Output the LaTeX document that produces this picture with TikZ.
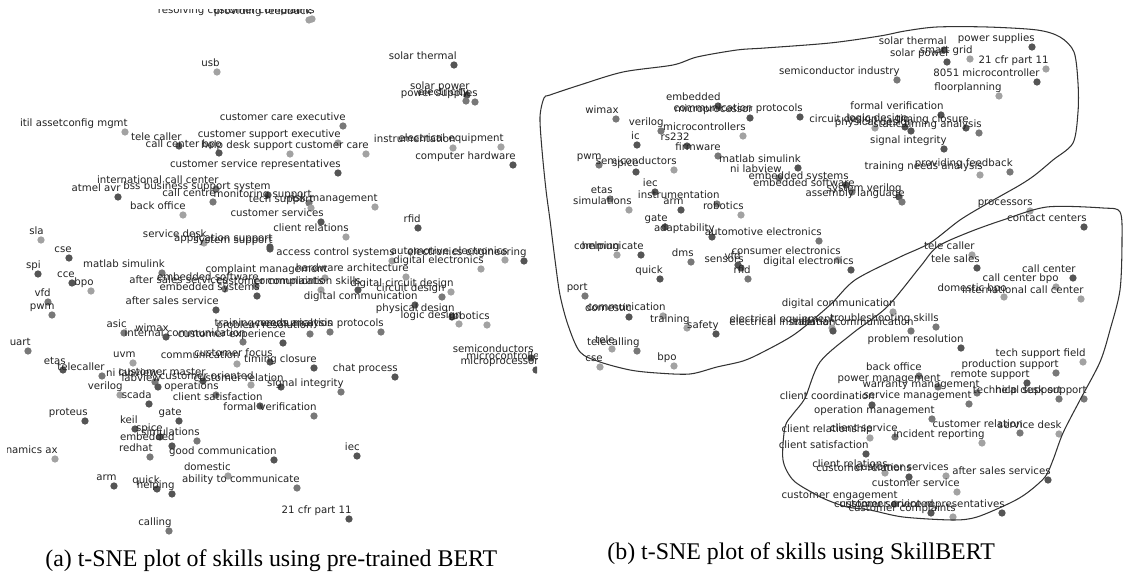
\documentclass[tikz,border=0pt]{standalone}
\usepackage{fontspec}
\setmainfont{Liberation Serif}
\newfontfamily\plotfont{DejaVu Sans}
\usepackage{tikz}
\usetikzlibrary{calc}
\definecolor{dk}{HTML}{555555}
\definecolor{md}{HTML}{787878}
\definecolor{lt}{HTML}{A2A2A2}
\definecolor{lbl}{HTML}{222222}
\tikzset{%
  skilldot/.style={circle, inner sep=0pt, minimum size=0.145cm, draw=none},
  skilltext/.style={font=\plotfont\fontsize{5.8}{7}\selectfont, text=lbl, inner sep=0pt, anchor=base east},
  blob/.style={draw=black!80, line width=0.6pt},
  capt/.style={font=\fontsize{13.6}{15}\selectfont, inner sep=0pt, anchor=base west}
}
\def\leftskills{312/19/lt/resolving customer complaints, 309/20/lt/providing feedback,
217/72/lt/usb, 454/65/dk/solar thermal, 467/95/dk/solar power, 466/101/md/electricity,
475/102/md/power supplies, 343/126/md/customer care executive, 125/132/lt/itil assetconfig mgmt,
338/143/lt/customer support executive, 179/146/dk/tele caller, 219/153/dk/call center bpo,
290/154/lt/help desk support, 366/154/lt/customer care, 501/147/lt/electrical equipment,
453/148/lt/instrumentation, 513/165/dk/computer hardware, 338/173/dk/customer service representatives,
216/189/md/international call center, 118/197/dk/atmel avr, 268/195/dk/bss business support system,
213/202/md/call centre, 309/203/md/monitoring support, 311/208/lt/tech support,
375/207/lt/risk management, 183/215/lt/back office, 321/222/dk/customer services,
418/228/dk/rfid, 346/237/lt/client relations, 41/240/lt/sla, 204/243/lt/service desk,
270/247/dk/application support, 270/249/dk/system support, 392/261/lt/access control systems,
505/260/lt/automotive electronics, 524/261/dk/electronics engineering, 481/269/lt/digital electronics,
69/258/dk/cse, 38/274/dk/spi, 162/273/md/matlab simulink, 325/278/lt/complaint management,
406/277/lt/hardware architecture, 72/283/dk/cce, 91/291/lt/bpo, 256/286/md/embedded software,
225/289/md/after sales services, 321/290/lt/customer complaints, 358/290/dk/communication skills,
451/292/lt/digital circuit design, 442/297/md/circuit design, 257/296/dk/embedded systems,
415/305/dk/digital communication, 216/310/dk/after sales service, 452/317/dk/physical design,
459/324/lt/logic design, 487/325/lt/robotics, 48/302/md/vfd, 52/315/md/pwm,
330/332/md/training needs analysis, 310/334/md/problem resolution, 381/332/md/communication protocols,
124/333/md/asic, 166/337/dk/wimax, 243/342/md/internal communication, 283/343/dk/customer experience,
28/351/md/uart, 133/363/lt/uvm, 237/364/lt/communication, 270/362/dk/customer focus,
314/368/dk/timing closure, 395/377/dk/chat process, 531/358/dk/semiconductors,
541/365/dk/microcontroller, 536/370/dk/microprocessor, 63/370/dk/etas, 102/376/md/telecaller,
155/382/md/ni labview, 158/387/dk/labview, 203/381/dk/customer master, 251/385/lt/customer oriented,
281/387/dk/customer relation, 216/395/md/operations, 341/392/md/signal integrity, 120/395/lt/verilog,
149/404/dk/scada, 260/406/dk/client satisfaction, 314/416/md/formal verification, 85/421/dk/proteus,
179/421/dk/gate, 135/429/dk/keil, 160/437/dk/spice, 197/441/md/simulations, 172/446/dk/embedded,
150/457/md/redhat, 274/460/dk/good communication, 55/459/lt/dynamics ax, 357/456/dk/iec,
228/476/lt/domestic, 297/488/md/ability to communicate, 114/486/dk/arm, 157/489/dk/quick,
172/494/dk/helping, 349/519/dk/21 cfr part 11, 169/531/md/calling}
\def\rightskills{897/80/md/semiconductor industry, 718/106/dk/embedded, 800/117/dk/communication protocols,
750/118/dk/microprocessor, 616/119/md/wimax, 661/131/md/verilog, 743/136/lt/microcontrollers,
637/145/dk/ic, 687/146/dk/rs232, 718/156/md/firmware, 798/168/dk/matlab simulink, 599/165/md/pwm,
674/170/lt/semiconductors, 636/172/dk/spice, 779/178/md/ni labview, 846/185/dk/embedded systems,
852/192/md/embedded software, 899/197/dk/system verilog, 902/202/md/assembly language,
944/50/dk/solar thermal, 947/62/dk/solar power, 970/59/lt/smart grid, 1032/47/dk/power supplies,
1046/69/lt/21 cfr part 11, 1037/82/dk/8051 microcontroller, 999/96/lt/floorplanning,
941/115/dk/formal verification, 875/128/lt/circuit design, 911/131/dk/physical design,
905/127/dk/logic design, 966/128/dk/timing closure, 979/133/md/static timing analysis,
944/149/dk/signal integrity, 980/175/lt/training needs analysis, 1010/172/md/providing feedback,
610/199/md/etas, 655/192/dk/iec, 629/210/lt/simulations, 717/204/md/instrumentation, 681/210/dk/arm,
741/215/lt/robotics, 665/227/dk/gate, 712/237/dk/adaptability, 819/241/md/automotive electronics,
641/255/dk/communicate, 617/255/lt/helping, 691/262/md/dms, 741/268/dk/sensors, 738/265/dk/vfd,
748/279/md/rfid, 838/260/lt/consumer electronics, 851/270/dk/digital electronics, 660/279/dk/quick,
585/296/md/port, 629/317/dk/domestic, 663/316/lt/communication, 687/328/lt/training, 716/334/dk/safety,
832/328/lt/electrical equipment, 833/331/dk/electrical installation, 893/312/lt/digital communication,
936/327/md/troubleshooting skills, 911/331/md/internal communication, 961/348/dk/problem resolution,
1083/362/lt/tech support field, 919/376/md/back office, 1056/373/md/production support,
1027/383/dk/remote support, 938/387/md/power management, 977/393/md/warranty management,
1059/399/md/technical support, 1084/399/md/help desk support, 872/405/dk/client coordination,
969/404/md/service management, 932/419/md/operation management, 1020/433/md/customer relation,
1059/434/lt/service desk, 870/438/lt/client relationship, 895/437/md/client service,
982/443/lt/incident reporting, 866/454/dk/client satisfaction, 885/473/lt/client relations,
909/477/dk/customer relations, 946/476/lt/customer services, 1048/480/dk/after sales services,
957/492/lt/customer service, 895/504/md/customer engagement, 931/513/dk/customer oriented,
953/517/lt/customer complaints, 1002/513/dk/customer service representatives, 1030/211/lt/processors,
1084/227/dk/contact centers, 972/255/lt/tele caller, 977/268/dk/tele sales, 1073/278/dk/call center,
1056/287/lt/call center bpo, 1004/297/lt/domestic bpo, 1081/299/lt/international call center,
637/351/md/telecalling, 612/349/lt/tele, 600/367/lt/cse, 674/366/lt/bpo}

\begin{document}
\begin{tikzpicture}[x=0.02cm, y=-0.02cm]
  \useasboundingbox (0,0) rectangle (1123,573);
  \begin{scope}
    \clip (7,9.5) rectangle (537,545);
    \foreach \px/\py/\sh/\lab [count=\i] in \leftskills {
      \node[skilldot, fill=\sh] (a\i) at (\px,\py) {};
    }
    \foreach \px/\py/\sh/\lab [count=\i] in \leftskills {
      \node[skilltext] (la\i) at ($(a\i)+(3,-5)$) {\lab};
    }
  \end{scope}
  \foreach \px/\py/\sh/\lab [count=\i] in \rightskills {
    \node[skilldot, fill=\sh] (b\i) at (\px,\py) {};
  }
  \foreach \px/\py/\sh/\lab [count=\i] in \rightskills {
    \node[skilltext] (lb\i) at ($(b\i)+(3,-5)$) {\lab};
  }
  \draw[blob] plot[smooth cycle] coordinates {(550,95) (580,85) (623,72) (673,65) (697,57)
    (737,50) (765,48) (830,43) (880,36) (905,31) (937,27) (987,27) (1037,30) (1060,37)
    (1074,52) (1078,83) (1078,112) (1073,143) (1053,160) (1035,175) (1020,185) (990,202)
    (960,220) (930,243) (900,257) (855,280) (830,305) (795,334) (763,352) (743,361)
    (717,367) (690,374) (657,373) (630,370) (600,362) (580,352) (568,325) (560,295)
    (555,260) (550,220) (546,190) (542,150) (540,117) (544,98)};
  \draw[blob] plot[smooth cycle] coordinates {(820,362) (853,333) (887,307) (920,267)
    (937,247) (967,233) (1003,220) (1047,207) (1103,208) (1120,212) (1122,240) (1120,290)
    (1110,330) (1100,362) (1080,400) (1063,433) (1053,460) (1045,477) (1027,493) (1010,503)
    (977,517) (953,520) (903,517) (870,510) (847,507) (827,500) (813,493) (793,480)
    (783,460) (785,427) (793,414) (805,398)};
  \node[capt] (capa) at (45,567) {(a) t-SNE plot of skills using pre-trained BERT};
  \node[capt] (capb) at (607,560) {(b) t-SNE plot of skills using SkillBERT};
\end{tikzpicture}
\end{document}
